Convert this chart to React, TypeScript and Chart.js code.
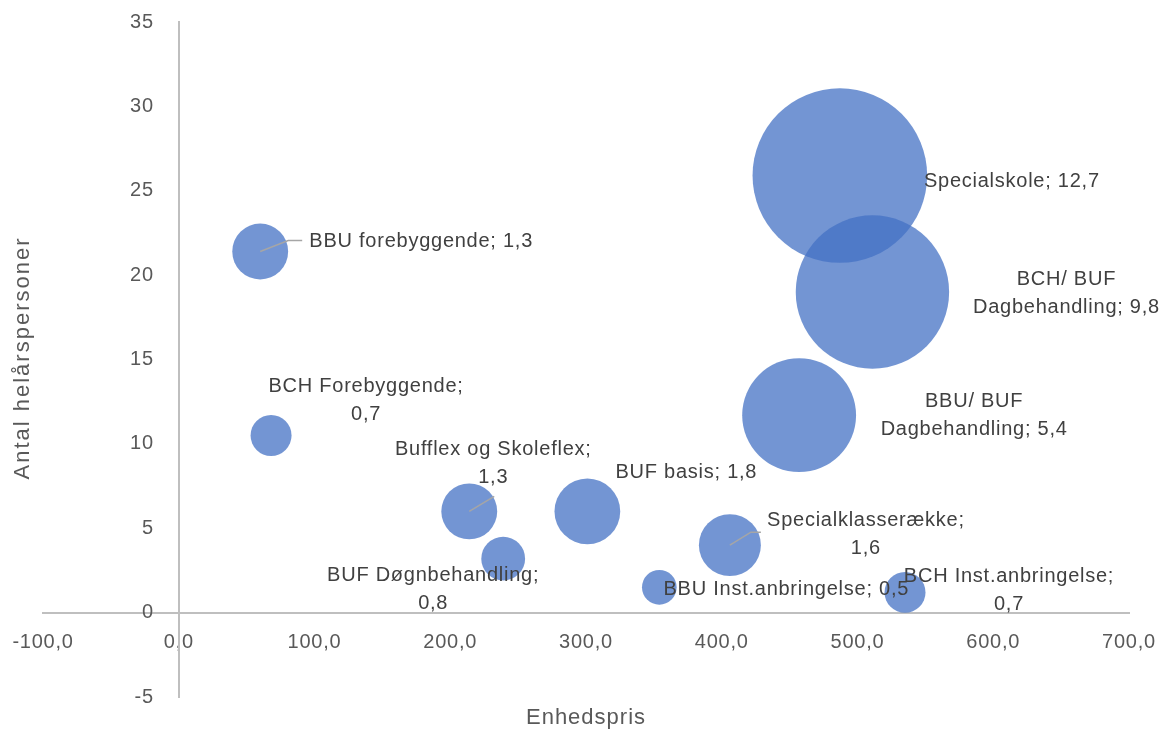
import React, { useEffect, useRef } from "react";
import { Chart, registerables } from "chart.js";

Chart.register(...registerables);

// ---- data ----
const categories = [
  "BBU forebyggende",
  "BCH Forebyggende",
  "Bufflex og Skoleflex",
  "BUF Døgnbehandling",
  "BUF basis",
  "BBU Inst.anbringelse",
  "Specialklasserække",
  "BCH Inst.anbringelse",
  "BBU/ BUF Dagbehandling",
  "Specialskole",
  "BCH/ BUF Dagbehandling",
];
const unitPrices = [60, 68, 214, 239, 301, 354, 406, 535, 457, 487, 511];
const persons = [21.4, 10.5, 6.0, 3.2, 6.0, 1.5, 4.0, 1.2, 11.7, 25.9, 19.0];
const bubbleSizes = [1.3, 0.7, 1.3, 0.8, 1.8, 0.5, 1.6, 0.7, 5.4, 12.7, 9.8];

const xMin = -100;
const xMax = 700;
const xStep = 100;
const yMin = -5;
const yMax = 35;
const yStep = 5;

const xTitle = "Enhedspris";
const yTitle = "Antal helårspersoner";

// ---- label layout (pixel offsets from bubble centre, styling only) ----
type LabelLayout = {
  dx: number;
  dy: number;
  split: "none" | "semi" | "word";
  leader?: number[][];
};
const labelLayout: LabelLayout[] = [
  { dx: 161, dy: -10, split: "none", leader: [[28, -11], [42, -11]] },
  { dx: 95, dy: -35, split: "semi" },
  { dx: 24, dy: -48, split: "semi", leader: [[25, -15]] },
  { dx: -70, dy: 30.5, split: "semi" },
  { dx: 99, dy: -39, split: "none" },
  { dx: 127, dy: 2, split: "none" },
  { dx: 136, dy: -11, split: "semi", leader: [[21, -13], [31, -13]] },
  { dx: 104, dy: -1.5, split: "semi" },
  { dx: 175, dy: 0.5, split: "word" },
  { dx: 172, dy: 6, split: "none" },
  { dx: 194, dy: 1.5, split: "word" },
];

const FONT = "'Liberation Sans', Arial, sans-serif";
const SPACING = "0.75px";
const RADIUS_SCALE = 24.5;
const Y_LABEL_GAP = 25;

const fmtSize = (v: number) => v.toFixed(1).replace(".", ",");

function labelLines(i: number): string[] {
  const name = categories[i];
  const s = fmtSize(bubbleSizes[i]);
  const mode = labelLayout[i].split;
  if (mode === "semi") return [name + ";", s];
  if (mode === "word") {
    const k = name.lastIndexOf(" ");
    return [name.slice(0, k), name.slice(k + 1) + "; " + s];
  }
  return [name + "; " + s];
}

const zeroPadding = (scale: any) => {
  scale.paddingLeft = 0;
  scale.paddingRight = 0;
  scale.paddingTop = 0;
  scale.paddingBottom = 0;
};

const decorPlugin = {
  id: "decor",
  afterLayout(chart: any) {
    // move the y tick labels to the left of the crossing axis line
    const s = chart.scales.y;
    const items = s.getLabelItems(chart.chartArea);
    items.forEach((it: any) => {
      it.options.translation = [it.options.translation[0] - Y_LABEL_GAP, it.options.translation[1]];
    });
  },
  beforeDraw(chart: any) {
    chart.ctx.letterSpacing = SPACING;
  },
  afterDatasetsDraw(chart: any) {
    const ctx = chart.ctx as CanvasRenderingContext2D;
    const meta = chart.getDatasetMeta(0);
    ctx.save();
    ctx.letterSpacing = SPACING;
    meta.data.forEach((el: any, i: number) => {
      const lay = labelLayout[i];
      const cx = el.x;
      const cy = el.y;
      if (lay.leader) {
        ctx.beginPath();
        ctx.strokeStyle = "#A6A6A6";
        ctx.lineWidth = 1.5;
        ctx.moveTo(cx, cy);
        lay.leader.forEach((p) => ctx.lineTo(cx + p[0], cy + p[1]));
        ctx.stroke();
      }
      const lines = labelLines(i);
      ctx.font = `20px ${FONT}`;
      ctx.fillStyle = "#404040";
      ctx.textAlign = "center";
      ctx.textBaseline = "middle";
      const lh = 28;
      lines.forEach((t, j) => {
        const y = cy + lay.dy + (j - (lines.length - 1) / 2) * lh;
        ctx.fillText(t, cx + lay.dx, y);
      });
    });
    ctx.restore();
  },
  afterDraw(chart: any) {
    const ctx = chart.ctx as CanvasRenderingContext2D;
    const area = chart.chartArea;
    ctx.save();
    ctx.font = `22px ${FONT}`;
    ctx.fillStyle = "#595959";
    ctx.textAlign = "center";
    ctx.textBaseline = "middle";
    ctx.letterSpacing = "1px";
    ctx.fillText(xTitle, (area.left + area.right) / 2, 718);
    ctx.letterSpacing = "2px";
    ctx.translate(23, 358);
    ctx.rotate(-Math.PI / 2);
    ctx.fillText(yTitle, 0, 0);
    ctx.restore();
  },
};

export default function App() {
  const ref = useRef<HTMLCanvasElement | null>(null);

  useEffect(() => {
    if (!ref.current) return;
    const points = categories.map((_, i) => ({
      x: unitPrices[i],
      y: persons[i],
      r: RADIUS_SCALE * Math.sqrt(bubbleSizes[i]),
    }));
    const chart = new Chart(ref.current, {
      type: "bubble",
      data: {
        labels: categories,
        datasets: [
          {
            data: points,
            backgroundColor: "rgba(68,114,196,0.75)",
            borderWidth: 0,
            hoverRadius: 0,
            clip: false,
          } as any,
        ],
      },
      options: {
        animation: false,
        responsive: false,
        events: [],
        layout: { autoPadding: false, padding: { left: 43, right: 32, top: 22, bottom: 34 } } as any,
        plugins: {
          legend: { display: false },
          tooltip: { enabled: false },
        },
        scales: {
          x: {
            type: "linear",
            min: xMin,
            max: xMax,
            position: { y: 0 } as any,
            afterFit: zeroPadding,
            grid: { display: false, drawTicks: false },
            border: { display: true, color: "#BFBFBF", width: 2 },
            ticks: {
              stepSize: xStep,
              padding: 18,
              maxRotation: 0,
              color: "#595959",
              font: { family: FONT, size: 20 },
              callback: (v: any) => Number(v).toFixed(1).replace(".", ","),
            },
          },
          y: {
            type: "linear",
            min: yMin,
            max: yMax,
            position: { x: 0 } as any,
            afterFit: zeroPadding,
            grid: { display: false, drawTicks: false },
            border: { display: true, color: "#BFBFBF", width: 2 },
            ticks: {
              stepSize: yStep,
              padding: 0,
              color: "#595959",
              font: { family: FONT, size: 20 },
              callback: (v: any) => String(v),
            },
          },
        },
      },
      plugins: [decorPlugin],
    });
    return () => chart.destroy();
  }, []);

  return (
    <div style={{ position: "fixed", left: 0, top: 0, width: 1161, height: 731, background: "#fff" }}>
      <canvas ref={ref} width={1161} height={731} style={{ display: "block", width: 1161, height: 731 }} />
    </div>
  );
}
